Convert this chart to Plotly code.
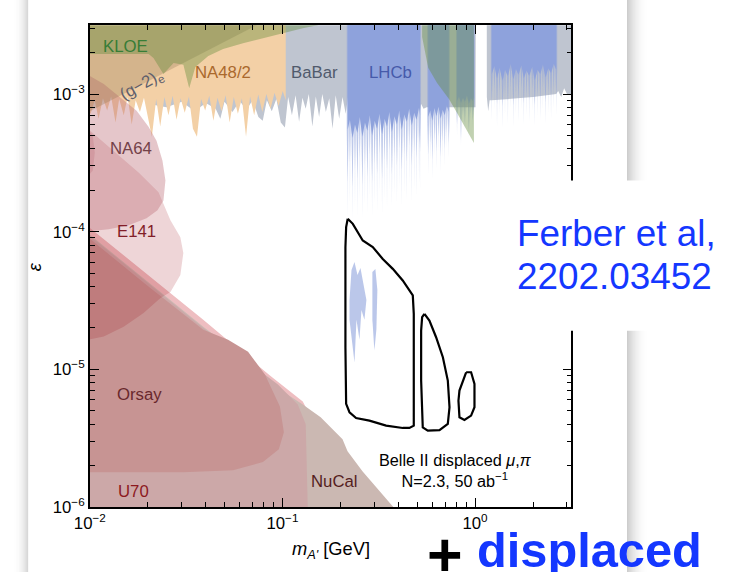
import math
import plotly.graph_objects as go

FIG_W, FIG_H = 729, 572
EPS_TOP = 4.0e-3     # closes limits that extend above the plotted range
EPS_FLOOR = 8.0e-7   # closes beam-dump limits that extend below the plotted range

# ---------------- exclusion limits: (m_A' [GeV], epsilon) ----------------
# lower edges of the prompt-search limits (excluded above the edge)
babar = [(0.020, 8.5e-4), (0.025, 8.0e-4), (0.030, 8.8e-4), (0.035, 7.5e-4), (0.040, 8.6e-4),
         (0.045, 7.8e-4), (0.0476, 6.6e-4), (0.050, 8.8e-4), (0.055, 7.4e-4), (0.060, 8.9e-4),
         (0.065, 7.7e-4), (0.070, 9.0e-4), (0.075, 6.8e-4), (0.079, 6.4e-4), (0.083, 9.0e-4),
         (0.088, 7.5e-4), (0.093, 9.2e-4), (0.098, 6.2e-4), (0.103, 5.7e-4), (0.107, 9.5e-4),
         (0.112, 7.0e-4), (0.117, 9.8e-4), (0.122, 6.3e-4), (0.127, 9.4e-4), (0.132, 7.8e-4),
         (0.137, 1.0e-3), (0.143, 5.8e-4), (0.149, 9.6e-4), (0.155, 6.8e-4), (0.161, 1.0e-3),
         (0.168, 7.4e-4), (0.175, 9.3e-4), (0.182, 5.6e-4), (0.189, 9.8e-4), (0.197, 6.6e-4),
         (0.205, 9.5e-4), (0.213, 7.2e-4), (0.220, 1.0e-3), (0.300, 1.0e-3), (0.510, 8.0e-4),
         (0.518, 7.6e-4), (0.524, 8.5e-4), (0.540, 7.8e-4), (0.560, 8.0e-4), (0.700, 8.0e-4),
         (1.005, 8.0e-4), (1.009, 4.0e-3), (1.150, 4.0e-3), (1.151, 9.5e-4), (1.170, 7.5e-4),
         (1.190, 9.0e-4), (1.220, 9.0e-4), (2.000, 9.5e-4), (2.640, 1.0e-3), (2.700, 1.05e-3),
         (2.800, 9.5e-4), (2.900, 1.1e-3), (3.000, 1.0e-3), (3.300, 1.0e-3)]

na48_m = [0.0095, 0.0101, 0.0106, 0.0111, 0.0117, 0.0123, 0.0129, 0.0136, 0.0142, 0.0150,
          0.0157, 0.0165, 0.0173, 0.0182, 0.0191, 0.0200, 0.0210, 0.0221, 0.0232, 0.0244,
          0.0256, 0.0269, 0.0282, 0.0296, 0.0311, 0.0327, 0.0343, 0.0360, 0.0378, 0.0397,
          0.0417, 0.0438, 0.0460, 0.0483, 0.0507, 0.0532, 0.0559, 0.0587, 0.0616, 0.0647,
          0.0679, 0.0713, 0.0749, 0.0786, 0.0825, 0.0867, 0.0910, 0.0955, 0.1003, 0.1040]
na48_eps = [7.8e-4, 7.2e-4, 9.0e-4, 6.6e-4, 9.3e-4, 7.6e-4, 9.6e-4, 6.2e-4, 9.2e-4, 7.0e-4,
            9.5e-4, 6.0e-4, 9.0e-4, 7.4e-4, 9.4e-4, 6.8e-4, 4.9e-4, 9.2e-4, 5.8e-4, 9.5e-4,
            7.0e-4, 9.7e-4, 6.5e-4, 9.3e-4, 7.3e-4, 9.6e-4, 5.6e-4, 4.9e-4, 9.2e-4, 7.6e-4,
            9.7e-4, 6.4e-4, 9.4e-4, 7.5e-4, 9.8e-4, 6.2e-4, 9.5e-4, 7.2e-4, 9.3e-4, 4.9e-4,
            9.6e-4, 7.0e-4, 9.9e-4, 7.4e-4, 1.0e-3, 7.8e-4, 1.02e-3, 8.2e-4, 1.05e-3, 9.0e-4]

# LHCb: (mass, solid edge, spike tips, faintest spike tips)
lhcb_low = [(0.218, 5.5e-4, 2.3e-4, 1.25e-4), (0.224, 6.5e-4, 3.2e-4, 1.6e-4), (0.231, 4.8e-4, 2.1e-4, 1.2e-4),
            (0.238, 6.0e-4, 2.8e-4, 1.5e-4), (0.245, 5.2e-4, 2.4e-4, 1.3e-4), (0.252, 6.8e-4, 3.4e-4, 1.7e-4),
            (0.260, 4.9e-4, 2.2e-4, 1.25e-4), (0.268, 6.2e-4, 3.0e-4, 1.55e-4), (0.276, 5.4e-4, 2.5e-4, 1.35e-4),
            (0.284, 7.0e-4, 3.6e-4, 1.8e-4), (0.292, 5.0e-4, 2.3e-4, 1.3e-4), (0.301, 6.4e-4, 3.1e-4, 1.6e-4),
            (0.310, 5.6e-4, 2.6e-4, 1.4e-4), (0.319, 7.2e-4, 3.7e-4, 1.9e-4), (0.329, 5.1e-4, 2.4e-4, 1.35e-4),
            (0.339, 6.6e-4, 3.3e-4, 1.7e-4), (0.349, 5.8e-4, 2.8e-4, 1.45e-4), (0.359, 7.4e-4, 3.9e-4, 1.95e-4),
            (0.370, 5.3e-4, 2.6e-4, 1.5e-4), (0.381, 6.9e-4, 3.5e-4, 1.8e-4), (0.393, 6.0e-4, 3.0e-4, 1.6e-4),
            (0.404, 7.6e-4, 4.0e-4, 2.1e-4), (0.416, 5.5e-4, 2.8e-4, 1.55e-4), (0.429, 7.1e-4, 3.6e-4, 1.9e-4),
            (0.442, 6.3e-4, 3.2e-4, 1.7e-4), (0.455, 7.8e-4, 4.2e-4, 2.2e-4), (0.469, 5.9e-4, 3.0e-4, 1.65e-4),
            (0.483, 7.3e-4, 3.8e-4, 2.0e-4), (0.497, 6.5e-4, 3.4e-4, 1.8e-4), (0.512, 8.0e-4, 4.4e-4, 2.3e-4),
            (0.518, 7.0e-4, 3.8e-4, 2.0e-4)]
lhcb_rho = [(0.571, 6.8e-4, 3.6e-4, 2.6e-4), (0.585, 7.6e-4, 4.4e-4, 3.3e-4), (0.600, 6.4e-4, 3.3e-4, 2.4e-4),
            (0.615, 7.9e-4, 4.6e-4, 3.5e-4), (0.630, 6.9e-4, 3.8e-4, 2.8e-4), (0.646, 8.1e-4, 4.9e-4, 3.8e-4),
            (0.662, 6.6e-4, 3.5e-4, 2.7e-4), (0.679, 7.7e-4, 4.5e-4, 3.4e-4), (0.696, 7.0e-4, 4.0e-4, 3.0e-4),
            (0.713, 8.3e-4, 5.2e-4, 4.0e-4), (0.730, 7.4e-4, 4.4e-4, 3.4e-4)]
lhcb_phi = [(0.806, 8.9e-4, 6.0e-4, 5.0e-4), (0.825, 9.6e-4, 7.5e-4, 6.6e-4), (0.845, 8.6e-4, 4.6e-4, 4.2e-4),
            (0.865, 9.4e-4, 7.0e-4, 6.2e-4), (0.886, 8.8e-4, 6.2e-4, 5.4e-4), (0.907, 9.8e-4, 7.8e-4, 7.0e-4),
            (0.929, 8.5e-4, 5.5e-4, 4.8e-4), (0.951, 9.3e-4, 7.2e-4, 6.4e-4), (0.974, 8.9e-4, 6.4e-4, 5.6e-4),
            (0.986, 9.5e-4, 7.6e-4, 6.8e-4)]
lhcb_high = [(1.22, 1.40e-3, 9.0e-4, 6.4e-4), (1.26, 1.60e-3, 1.10e-3, 7.6e-4), (1.30, 1.30e-3, 8.4e-4, 5.8e-4),
             (1.34, 1.55e-3, 1.05e-3, 7.2e-4), (1.39, 1.25e-3, 8.2e-4, 5.6e-4), (1.43, 1.50e-3, 1.00e-3, 7.0e-4),
             (1.48, 1.35e-3, 8.8e-4, 6.0e-4), (1.53, 1.65e-3, 1.12e-3, 7.8e-4), (1.58, 1.28e-3, 8.3e-4, 5.7e-4),
             (1.63, 1.52e-3, 1.02e-3, 7.1e-4), (1.68, 1.38e-3, 9.2e-4, 6.3e-4), (1.74, 1.62e-3, 1.10e-3, 7.7e-4),
             (1.79, 1.30e-3, 8.5e-4, 5.9e-4), (1.85, 1.48e-3, 1.00e-3, 7.0e-4), (1.91, 1.36e-3, 9.0e-4, 6.2e-4),
             (1.98, 1.58e-3, 1.08e-3, 7.5e-4), (2.04, 1.26e-3, 8.3e-4, 5.8e-4), (2.11, 1.50e-3, 1.00e-3, 6.9e-4),
             (2.18, 1.40e-3, 9.3e-4, 6.4e-4), (2.25, 1.64e-3, 1.12e-3, 7.8e-4), (2.32, 1.32e-3, 8.7e-4, 6.0e-4),
             (2.40, 1.54e-3, 1.04e-3, 7.2e-4), (2.48, 1.42e-3, 9.5e-4, 6.6e-4), (2.56, 1.66e-3, 1.10e-3, 7.7e-4),
             (2.64, 1.50e-3, 1.00e-3, 7.0e-4)]

kloe_phi = [(0.0095, 1.95e-3), (0.0202, 1.95e-3), (0.0214, 1.83e-3), (0.0241, 1.40e-3), (0.0272, 1.68e-3),
            (0.0306, 1.63e-3), (0.0328, 1.10e-3), (0.0353, 1.57e-3), (0.0412, 1.89e-3), (0.0492, 2.12e-3),
            (0.0624, 2.34e-3), (0.0792, 2.55e-3), (0.1005, 2.77e-3), (0.1275, 3.01e-3), (0.1524, 3.16e-3),
            (0.1700, 3.60e-3)]
kloe_mumu = [(0.531, 2.6e-3), (0.571, 1.55e-3), (0.635, 1.2e-3), (0.732, 9.2e-4), (0.805, 7.3e-4),
             (0.907, 5.4e-4), (0.986, 4.4e-4)]
g2_e = [(0.0095, 7.2e-4), (0.1017, 4.0e-3)]

# closed contours of the fixed-target / beam-dump limits
na64 = [(0.00977, 1.376e-3), (0.01181, 1.184e-3), (0.01445, 9.38e-4), (0.01749, 7.55e-4), (0.02017, 5.79e-4),
        (0.02219, 4.58e-4), (0.02382, 3.285e-4), (0.02469, 2.355e-4), (0.02411, 1.688e-4), (0.02245, 1.429e-4),
        (0.01970, 1.251e-4), (0.01590, 1.113e-4), (0.01253, 1.041e-4), (0.00977, 1.007e-4)]
e141 = [(0.00977, 5.60e-4), (0.01330, 3.88e-4), (0.01791, 2.69e-4), (0.02273, 1.93e-4), (0.02621, 1.21e-4),
        (0.02951, 9.12e-5), (0.03058, 6.99e-5), (0.02951, 4.84e-5), (0.02621, 3.65e-5), (0.02327, 3.30e-5),
        (0.01901, 2.57e-5), (0.01498, 2.04e-5), (0.01181, 1.73e-5), (0.00977, 1.64e-5)]
e774 = [(0.00977, 5.60e-4), (0.01036, 4.98e-4), (0.01061, 3.75e-4), (0.01036, 2.78e-4), (0.00977, 2.52e-4)]

# upper edges of limits that extend down past the plotted range
e137 = [(0.00977, 1.095e-4), (0.0197, 4.93e-5), (0.0388, 2.29e-5), (0.0861, 9.01e-6), (0.1275, 5.85e-6),
        (0.1617, 3.10e-6), (0.1933, 1.0e-6), (0.200, 8.0e-7)]
nucal = [(0.00977, 9.75e-5), (0.0197, 4.38e-5), (0.0388, 2.04e-5), (0.0703, 1.08e-5), (0.1005, 6.90e-6),
         (0.1275, 5.56e-6), (0.1579, 4.48e-6), (0.2051, 3.10e-6), (0.2177, 2.54e-6), (0.2602, 1.82e-6),
         (0.3762, 1.0e-6), (0.3993, 8.0e-7)]
u70 = [(0.00977, 9.58e-5), (0.0197, 4.31e-5), (0.0388, 2.00e-5), (0.0703, 1.06e-5), (0.0947, 7.76e-6),
       (0.1201, 5.56e-6), (0.1321, 3.99e-6), (0.1353, 1.0e-6), (0.1360, 8.0e-7)]
orsay = [(0.00977, 9.12e-5), (0.0197, 4.10e-5), (0.0388, 1.94e-5), (0.0522, 1.64e-5), (0.0663, 1.34e-5),
         (0.0811, 9.16e-6), (0.0970, 5.38e-6), (0.1017, 3.49e-6), (0.0958, 2.63e-6), (0.0792, 2.12e-6),
         (0.0554, 1.85e-6), (0.0306, 1.79e-6), (0.00977, 1.79e-6)]

# LHCb displaced-vertex islands
lhcb_dv_a = [(0.2229, 3.19e-5), (0.2283, 5.26e-5), (0.2366, 6.01e-5), (0.2452, 4.84e-5), (0.2541, 5.44e-5),
             (0.2633, 4.10e-5), (0.2728, 3.19e-5), (0.2664, 2.29e-5), (0.2571, 2.70e-5), (0.2511, 1.64e-5),
             (0.2423, 2.29e-5), (0.2366, 1.12e-5), (0.2283, 1.78e-5), (0.2229, 2.29e-5)]
lhcb_dv_b = [(0.2930, 5.09e-5), (0.3037, 5.35e-5), (0.3110, 3.77e-5), (0.3073, 1.94e-5), (0.3001, 1.37e-5),
             (0.2930, 2.29e-5)]

# Belle II displaced mu,pi projection, N=2.3 events at 50 ab^-1
belle_1 = [(0.2182, 1.241e-4), (0.2319, 1.140e-4), (0.2611, 8.63e-5), (0.2944, 7.72e-5), (0.3317, 6.34e-5),
           (0.3739, 5.37e-5), (0.4211, 4.42e-5), (0.4750, 3.44e-5), (0.4806, 2.53e-5), (0.4806, 8.29e-6),
           (0.4806, 3.90e-6), (0.4560, 3.75e-6), (0.4211, 3.75e-6), (0.3453, 3.90e-6), (0.2828, 4.24e-6),
           (0.2411, 4.43e-6), (0.2229, 4.88e-6), (0.2141, 5.61e-6), (0.2123, 1.446e-5), (0.2123, 7.72e-5),
           (0.2141, 1.079e-4)]
belle_2 = [(0.5459, 2.53e-5), (0.5793, 2.26e-5), (0.6275, 1.711e-5), (0.6804, 1.224e-5), (0.7218, 8.29e-6),
           (0.7366, 5.30e-6), (0.7218, 4.01e-6), (0.6533, 3.62e-6), (0.5684, 3.59e-6), (0.5350, 3.79e-6),
           (0.5248, 8.29e-6), (0.5248, 1.912e-5), (0.5311, 2.39e-5)]
belle_3 = [(0.8986, 9.52e-6), (0.9535, 9.52e-6), (0.9929, 7.83e-6), (0.9929, 5.30e-6), (0.9535, 4.61e-6),
           (0.8805, 4.29e-6), (0.8296, 4.48e-6), (0.8198, 5.92e-6), (0.8296, 7.01e-6), (0.8640, 8.06e-6)]

# ---------------- colours ----------------
C_BABAR = "rgb(191,197,208)"
C_NA48 = "rgb(243,208,166)"
C_LHCB = (142, 162, 220)
C_E137 = "rgb(238,190,193)"
C_NUCAL = "rgb(203,184,178)"
C_U70 = "rgb(204,168,168)"
C_ORSAY = "rgb(199,148,147)"
C_E141 = "rgba(155,8,18,0.17)"
C_E774 = "rgba(170,60,75,0.20)"
C_NA64 = "rgba(190,112,122,0.40)"
C_G2E = "rgba(143,115,80,0.30)"
C_KLOE = "rgba(100,140,60,0.40)"

fig = go.Figure()


def _poly(xs, ys, color):
    fig.add_trace(go.Scatter(x=xs, y=ys, mode="lines", fill="toself", fillcolor=color,
                             line=dict(width=0, color="rgba(0,0,0,0)"),
                             hoverinfo="skip", showlegend=False))


def above(pts, color):
    """Region excluded above a lower edge."""
    m = [p[0] for p in pts]
    e = [p[1] for p in pts]
    _poly(m + [m[-1], m[0]], e + [EPS_TOP, EPS_TOP], color)


def below(pts, color):
    """Region excluded below an upper edge."""
    m = [p[0] for p in pts]
    e = [p[1] for p in pts]
    _poly(m + [m[-1], m[0]], e + [EPS_FLOOR, EPS_FLOOR], color)


def closed(pts, color):
    m = [p[0] for p in pts]
    e = [p[1] for p in pts]
    _poly(m + [m[0]], e + [e[0]], color)


def lhcb(rows):
    """Solid LHCb limit with thin fading spikes hanging below it."""
    r, g, b = C_LHCB
    for col, alpha, half in ((3, 0.26, 1.008), (2, 0.45, 1.012)):
        xs, ys = [], []
        for row in rows:
            m, base, tip = row[0], row[1], row[col]
            xs += [m / half, m, m * half]
            ys += [base, tip, base]
        xs += [rows[-1][0] * half, rows[0][0] / half]
        ys += [EPS_TOP, EPS_TOP]
        _poly(xs, ys, f"rgba({r},{g},{b},{alpha})")
    above([(row[0], row[1]) for row in rows], f"rgb({r},{g},{b})")


above(babar, C_BABAR)
above(list(zip(na48_m, na48_eps)), C_NA48)
for rows in (lhcb_low, lhcb_rho, lhcb_phi, lhcb_high):
    lhcb(rows)
below(e137, C_E137)
below(nucal, C_NUCAL)
below(u70, C_U70)
closed(orsay, C_ORSAY)
closed(e141, C_E141)
closed(e774, C_E774)
closed(na64, C_NA64)
above(g2_e, C_G2E)
above(kloe_phi, C_KLOE)
above(kloe_mumu, C_KLOE)
closed(lhcb_dv_a, "rgba(142,162,220,0.6)")
closed(lhcb_dv_b, "rgba(142,162,220,0.6)")

for contour in (belle_1, belle_2, belle_3):
    m = [p[0] for p in contour] + [contour[0][0]]
    e = [p[1] for p in contour] + [contour[0][1]]
    fig.add_trace(go.Scatter(x=m, y=e, mode="lines", line=dict(color="black", width=2.2),
                             hoverinfo="skip", showlegend=False))

# ---------------- screen-pixel helpers ----------------
# the viewer page draws the paper slightly scaled and shifted; these map
# screen pixels (from the top-left corner) to paper fractions
SX, OX = 0.983, 11.8
SY, OY = 0.987, -1.3
FS = 1 / 0.985


def px(x):
    return ((x - OX) / SX) / FIG_W


def py(y):
    return 1 - ((y - OY) / SY) / FIG_H


FONT = "Liberation Sans, Arial, sans-serif"
X0, X1, Y0, Y1 = 86, 570, 24, 508   # frame corners on screen

minor_x = [k * 10.0 ** d for d in (-2, -1, 0) for k in range(2, 10) if k * 10.0 ** d < 3.17]
minor_y = [k * 10.0 ** d for d in (-6, -5, -4, -3) for k in range(2, 10) if k * 10.0 ** d < 3.17e-3]

axis_common = dict(type="log", showline=True, linecolor="black", linewidth=1.5, mirror="ticks",
                   ticks="inside", ticklen=9, tickwidth=1.2, tickcolor="black", showgrid=False,
                   zeroline=False, tickmode="array", fixedrange=True,
                   tickfont=dict(family=FONT, size=16.5 * FS, color="black"))

fig.update_layout(
    width=FIG_W, height=FIG_H, margin=dict(l=0, r=0, t=0, b=0),
    paper_bgcolor="white", plot_bgcolor="rgba(0,0,0,0)", showlegend=False,
    xaxis=dict(**axis_common, range=[-2, 0.5], domain=[px(X0), px(X1)],
               tickvals=[0.01, 0.1, 1], ticktext=["10<sup>−2</sup>", "10<sup>−1</sup>", "10<sup>0</sup>"],
               minor=dict(ticks="inside", ticklen=5, tickwidth=1, tickcolor="black", tickvals=minor_x)),
    yaxis=dict(**axis_common, range=[-6, -2.5], domain=[py(Y1), py(Y0)],
               tickvals=[1e-6, 1e-5, 1e-4, 1e-3],
               ticktext=["10<sup>−6</sup>", "10<sup>−5</sup>", "10<sup>−4</sup>", "10<sup>−3</sup>"],
               minor=dict(ticks="inside", ticklen=5, tickwidth=1, tickcolor="black", tickvals=minor_y)),
)

# ---------------- slide card, shadow and overlay box ----------------
shapes = []
for i in range(14):
    t = i / 14
    g = int(255 - 45 * (1 - t) ** 2)
    shapes.append(dict(type="rect", xref="paper", yref="paper", x0=px(24 - i - 1), x1=px(24 - i),
                       y0=-0.05, y1=1.05, fillcolor=f"rgb({g},{g},{g})", line=dict(width=0), layer="below"))
for i in range(20):
    t = i / 20
    g = int(255 - 55 * (1 - t) ** 2)
    shapes.append(dict(type="rect", xref="paper", yref="paper", x0=px(626 + i), x1=px(627 + i),
                       y0=-0.05, y1=1.05, fillcolor=f"rgb({g},{g},{g})", line=dict(width=0), layer="below"))
shapes.append(dict(type="rect", xref="paper", yref="paper", x0=px(510), x1=1.05, y0=py(331), y1=py(180),
                   fillcolor="white", line=dict(width=0), layer="above"))
fig.update_layout(shapes=shapes)


# ---------------- labels ----------------
def lab(m, eps, text, color, size=16.5, angle=0):
    return dict(x=math.log10(m), y=math.log10(eps), xref="x", yref="y", text=text, showarrow=False,
                textangle=angle, font=dict(family=FONT, size=size * FS, color=color))


def note(x, y, text, color, size, xanchor="center", bold=False, angle=0):
    if bold:
        text = f"<b>{text}</b>"
    return dict(x=px(x), y=py(y), xref="paper", yref="paper", text=text, showarrow=False,
                xanchor=xanchor, yanchor="middle", textangle=angle,
                font=dict(family=FONT, size=size * FS, color=color))


annotations = [
    lab(0.01535, 2.23e-3, "KLOE", "rgb(55,125,55)"),
    lab(0.01856, 1.146e-3, "(g−2)<sub>e</sub>", "rgb(95,95,108)", angle=-29),
    lab(0.04921, 1.422e-3, "NA48/2", "rgb(170,105,45)"),
    lab(0.1470, 1.422e-3, "BaBar", "rgb(80,90,108)"),
    lab(0.3631, 1.422e-3, "LHCb", "rgb(70,90,170)"),
    lab(0.01628, 4.01e-4, "NA64", "rgb(115,65,72)"),
    lab(0.01749, 1.007e-4, "E141", "rgb(130,30,40)"),
    lab(0.01813, 6.57e-6, "Orsay", "rgb(105,40,45)"),
    lab(0.01688, 1.285e-6, "U70", "rgb(140,25,30)"),
    lab(0.1865, 1.543e-6, "NuCal", "rgb(85,30,30)"),
    lab(0.796, 1.854e-6, "Belle II displaced <i>μ</i>,<i>π</i><br>N=2.3, 50 ab<sup>−1</sup>", "black", size=16),
    note(30, 267, "<i>ε</i>", "black", 18, angle=-90),
    note(328, 551, "<i>m<sub>A'</sub></i> [GeV]", "black", 18),
    note(513, 233, "Ferber et al,", "rgb(20,55,255)", 36.3, xanchor="left"),
    note(513, 276, "2202.03452", "rgb(20,55,255)", 36.3, xanchor="left"),
    note(443, 556, "+", "black", 60, bold=True),
    note(473, 551, "displaced", "rgb(20,55,255)", 48, xanchor="left", bold=True),
]
fig.update_layout(annotations=annotations)

fig.write_html("out.html")
